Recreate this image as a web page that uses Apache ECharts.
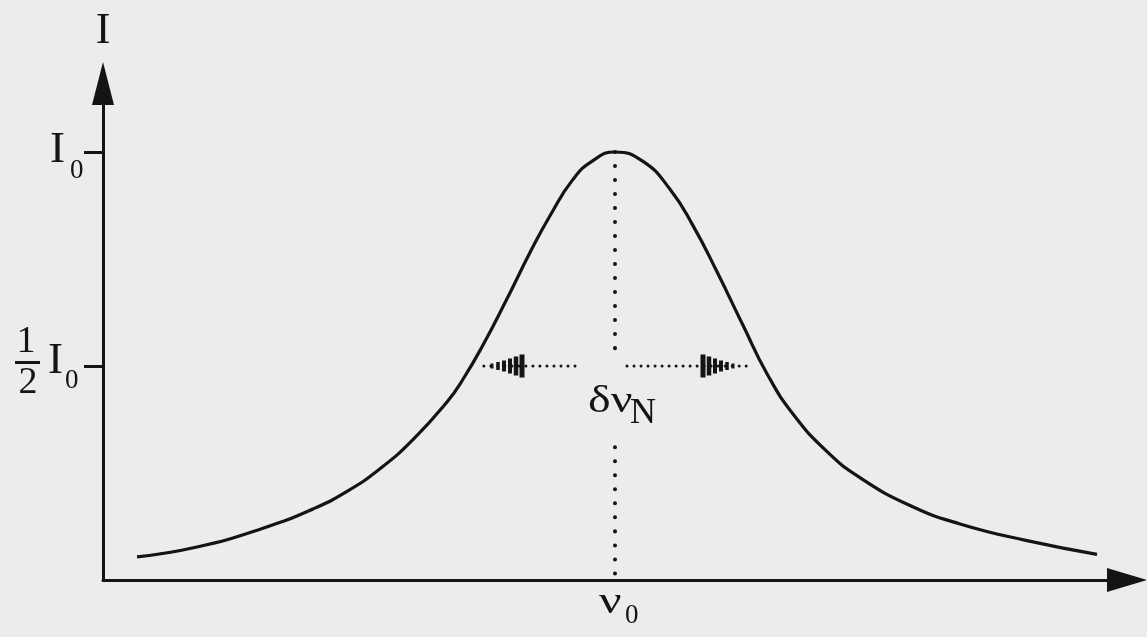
<!DOCTYPE html>
<html>
<head>
<meta charset="utf-8">
<script src="https://cdn.jsdelivr.net/npm/echarts@6/dist/echarts.min.js"></script>
<style>
  html, body { margin: 0; padding: 0; background: #ececec; }
  #chart { width: 1147px; height: 637px; }
</style>
</head>
<body>
<div id="chart"></div>
<script>
// Natural line profile: frequency offset from ν0 (arbitrary units) and intensity relative to I0
const freqOffset = [-4.78, -4.18, -3.52, -3.02, -2.68, -2.35, -2.02, -1.68, -1.52, -1.32, -1.08, -0.85, -0.65, -0.42, -0.22, 0,
                    0.28, 0.55, 0.78, 1.02, 1.28, 1.52, 1.78, 2.12, 2.45, 2.95, 3.45, 4.12, 4.82];
const intensity  = [0.054, 0.077, 0.121, 0.166, 0.207, 0.260, 0.328, 0.416, 0.469, 0.549, 0.657, 0.765, 0.851, 0.936, 0.980, 1.0,
                    0.978, 0.913, 0.828, 0.720, 0.595, 0.482, 0.388, 0.300, 0.239, 0.174, 0.131, 0.092, 0.060];
// Intensity ticks (½ I0 and I0) and the line centre ν0
const tickValues = [0.5, 1];
const lineCentre = 0;
// Half-maximum level and the width arrows drawn at it
const halfMax = 0.5;
const leftArrow  = { tip: -1.37, tail: -0.40 };
const rightArrow = { tip: 1.32, tail: 0.12 };
// Break in the centre line where the δν_N label sits
const labelGap = [0.31, 0.54];

// Arrowhead drawn as a row of bars growing away from the tip
const headOffsets = [0.14, 0.20, 0.26, 0.32, 0.38, 0.44];
const headHeights = [5, 8, 11, 15, 19, 23];
const headWidths  = [3, 3.5, 4, 4, 4.5, 5];

const INK = '#141414';
const SERIF = '"Liberation Serif", "DejaVu Serif", serif';

const curve = freqOffset.map((x, i) => [x, intensity[i]]);
const headData = [];
headOffsets.forEach((d, i) => {
  headData.push([leftArrow.tip + d, halfMax, i]);
  headData.push([rightArrow.tip - d, halfMax, i]);
});

const chart = echarts.init(document.getElementById('chart'), null, { renderer: 'canvas' });

const axisLineStyle = { color: INK, width: 3 };

chart.setOption({
  backgroundColor: '#ececec',
  animation: false,
  grid: { left: 103, right: 20, top: 83.5, bottom: 57 },
  xAxis: {
    type: 'value', min: -5.12, max: 5.12,
    axisLine: { show: true, onZero: false, symbol: ['none', 'triangle'], symbolSize: [24, 40], lineStyle: axisLineStyle },
    axisTick: { show: false }, axisLabel: { show: false }, splitLine: { show: false }
  },
  yAxis: {
    type: 'value', min: 0, max: 1.16,
    name: 'I', nameLocation: 'end', nameGap: 30,
    nameTextStyle: { fontFamily: SERIF, fontSize: 44, color: INK },
    axisLine: { show: true, onZero: false, symbol: ['none', 'triangle'], symbolSize: [22, 43], lineStyle: axisLineStyle },
    axisTick: { show: true, customValues: tickValues, length: 19, lineStyle: { color: INK, width: 3 } },
    axisLabel: { show: false }, splitLine: { show: false }
  },
  series: [
    {
      type: 'line', data: curve, smooth: 0.5, symbol: 'none',
      lineStyle: { color: INK, width: 3.2 }, z: 3
    },
    {
      type: 'line', data: [[lineCentre, 1], [lineCentre, labelGap[1]]], symbol: 'none',
      lineStyle: { color: INK, width: 4, type: [0.01, 14], cap: 'round' }
    },
    {
      type: 'line', data: [[lineCentre, labelGap[0]], [lineCentre, 0]], symbol: 'none',
      lineStyle: { color: INK, width: 4, type: [0.01, 14], cap: 'round' }
    },
    {
      type: 'line', data: [[leftArrow.tail, halfMax], [leftArrow.tip, halfMax]], symbol: 'none',
      lineStyle: { color: INK, width: 3, type: [0.01, 7], cap: 'round' }
    },
    {
      type: 'line', data: [[rightArrow.tail, halfMax], [rightArrow.tip, halfMax]], symbol: 'none',
      lineStyle: { color: INK, width: 3, type: [0.01, 7], cap: 'round' }
    },
    {
      type: 'scatter', data: headData, symbol: 'rect',
      symbolSize: (val) => [headWidths[val[2]], headHeights[val[2]]],
      itemStyle: { color: INK, opacity: 1 }, z: 4
    }
  ]
});

// Tick and line labels, placed from the axis scales
const toPx = (x, y) => chart.convertToPixel({ gridIndex: 0 }, [x, y]);
const yI0 = toPx(0, 1)[1];
const yHalf = toPx(0, 0.5)[1];
const x0 = toPx(lineCentre, 0)[0];
const yBase = toPx(lineCentre, 0)[1];
const yArrow = toPx(0, halfMax)[1];

function txt(text, x, y, size, align, stretch) {
  return {
    type: 'text', x, y, silent: true, scaleX: stretch || 1,
    style: { text, fontFamily: SERIF, fontSize: size, fill: INK, align: align || 'left', verticalAlign: 'middle' }
  };
}

chart.setOption({
  graphic: [
    // I0
    txt('I', 65, yI0 - 2, 45, 'right'),
    txt('0', 70, yI0 + 19, 27),
    // ½ I0
    txt('1', 26, yHalf - 24, 38, 'center'),
    { type: 'rect', silent: true, shape: { x: 15, y: yHalf - 5, width: 25, height: 3 }, style: { fill: INK } },
    txt('2', 28, yHalf + 17, 38, 'center'),
    txt('I', 63, yHalf - 5, 45, 'right'),
    txt('0', 65, yHalf + 15, 27),
    // ν0 under the axis
    txt('ν', x0 - 16, yBase + 23, 37, 'left', 1.35),
    txt('0', x0 + 10, yBase + 36, 27),
    // δν_N between the width arrows
    txt('δν', x0 - 27, yArrow + 36, 37, 'left', 1.3),
    txt('N', x0 + 15, yArrow + 48, 36)
  ]
});
</script>
</body>
</html>
